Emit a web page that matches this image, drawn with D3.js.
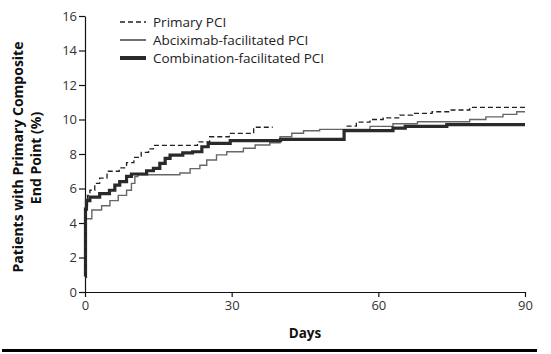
<!DOCTYPE html>
<html lang="en">
<head>
  <meta charset="UTF-8" />
  <title>Primary Composite End Point</title>
  <script src="https://cdn.jsdelivr.net/npm/d3@7"></script>
  <style>
    html, body { margin: 0; padding: 0; background: #fff; overflow: hidden; }
    svg { display: block; }
    text { font-family: "Open Sans", "Noto Sans", sans-serif; }
  </style>
</head>
<body>
  <script>
    // ----------------------------
    // Data (step points: [day, percent])
    // null marks the stretch where the dashed curve is not drawn in the original
    // ----------------------------
    const seriesNames = ["Primary PCI", "Abciximab-facilitated PCI", "Combination-facilitated PCI"];
    const yTicks = [0, 2, 4, 6, 8, 10, 12, 14, 16];
    const xTicks = [0, 30, 60, 90];

    const primaryPCI = [
      [0, 0.9], [0.1, 5.0], [0.5, 5.6], [1, 5.9], [2, 6.3], [3, 6.6], [4.5, 7.0],
      [7, 7.2], [8.5, 7.5], [10, 7.8], [11.5, 8.1], [13, 8.3], [14, 8.5], [23, 8.7],
      [25.5, 9.0], [29.5, 9.2], [34.5, 9.55], [38.4, 9.55], [38.5, null],
      [53.5, 9.62], [55.5, 9.85], [58.3, 10.0],
      [61, 10.1], [64.4, 10.25], [67, 10.35], [71, 10.45], [74.7, 10.55], [78.7, 10.7],
      [90, 10.7]
    ];
    const abciximabPCI = [
      [0, 0.9], [0.1, 4.25], [1.4, 4.75], [3.4, 5.0], [5.1, 5.3], [6.8, 5.6], [8.5, 5.9],
      [9.5, 6.3], [10.2, 6.7], [10.8, 6.8], [19.4, 6.9], [21.5, 7.15], [23.5, 7.35],
      [24.9, 7.65], [26.9, 7.95], [29, 8.13], [32.4, 8.33], [34.8, 8.52], [37.8, 8.65],
      [39.9, 9.0], [42.3, 9.2], [44.7, 9.35], [48, 9.43], [58.3, 9.6], [63, 9.75], [68, 9.87],
      [78.7, 10.0], [82, 10.15], [85.5, 10.3], [88.3, 10.45], [90, 10.45]
    ];
    const combinationPCI = [
      [0, 0.9], [0.1, 4.8], [0.3, 5.3], [1, 5.5], [3, 5.7], [5, 5.9], [6.1, 6.2], [7.1, 6.4],
      [8.5, 6.7], [9.5, 6.84], [12.6, 7.03], [14, 7.17], [15.3, 7.46], [16.4, 7.75],
      [17.4, 7.94], [20, 8.07], [22, 8.13], [23.9, 8.42], [25.2, 8.62], [29.7, 8.77],
      [40, 8.85], [53, 9.35], [63, 9.5], [65.5, 9.6], [74, 9.7], [90, 9.7]
    ];

    // ----------------------------
    // Layout
    // ----------------------------
    const width = 551, height = 354;
    const margin = { left: 85, right: 26, top: 16, bottom: 62 };

    const svg = d3.select("body").append("svg")
      .attr("width", width)
      .attr("height", height);

    const x = d3.scaleLinear().domain([0, 90]).range([margin.left, width - margin.right]);
    const y = d3.scaleLinear().domain([0, 16]).range([height - margin.bottom, margin.top]);

    // ----------------------------
    // Axes
    // ----------------------------
    const xAxis = svg.append("g")
      .attr("transform", `translate(0,${y(0)})`)
      .call(d3.axisBottom(x).tickValues(xTicks).tickSize(5).tickPadding(4).tickSizeOuter(0));
    const yAxis = svg.append("g")
      .attr("transform", `translate(${x(0)},0)`)
      .call(d3.axisLeft(y).tickValues(yTicks).tickSize(6).tickPadding(2).tickSizeOuter(0));

    [xAxis, yAxis].forEach(g => {
      g.select(".domain").attr("stroke", "#111").attr("stroke-width", 1.2);
      g.selectAll(".tick line").attr("stroke", "#111").attr("stroke-width", 1.2);
      g.selectAll(".tick text")
        .attr("fill", "#333")
        .style("font-size", "13px");
    });

    // ----------------------------
    // Curves
    // ----------------------------
    const line = d3.line()
      .defined(d => d[1] != null)
      .x(d => x(d[0]))
      .y(d => y(d[1]))
      .curve(d3.curveStepAfter);

    svg.append("path")
      .datum(abciximabPCI)
      .attr("fill", "none")
      .attr("stroke", "#666")
      .attr("stroke-width", 1.4)
      .attr("d", line);

    svg.append("path")
      .datum(combinationPCI)
      .attr("fill", "none")
      .attr("stroke", "#2a2a2a")
      .attr("stroke-width", 3.2)
      .attr("d", line);

    svg.append("path")
      .datum(primaryPCI)
      .attr("fill", "none")
      .attr("stroke", "#222")
      .attr("stroke-width", 1.3)
      .attr("stroke-dasharray", "5,3")
      .attr("d", line);

    // ----------------------------
    // Legend
    // ----------------------------
    const legendStyles = [
      { dash: "5,3", width: 1.3, color: "#222" },
      { dash: null, width: 1.3, color: "#222" },
      { dash: null, width: 4, color: "#2a2a2a" }
    ];
    const legend = svg.append("g");
    seriesNames.forEach((name, i) => {
      const ly = 22 + i * 18;
      legend.append("line")
        .attr("x1", 120).attr("x2", 146)
        .attr("y1", ly).attr("y2", ly)
        .attr("stroke", legendStyles[i].color)
        .attr("stroke-width", legendStyles[i].width)
        .attr("stroke-dasharray", legendStyles[i].dash);
      legend.append("text")
        .attr("x", 153)
        .attr("y", ly + 5)
        .attr("fill", "#222")
        .style("font-size", "13.5px")
        .text(name);
    });

    // ----------------------------
    // Axis titles
    // ----------------------------
    const yTitle = svg.append("text")
      .attr("transform", `translate(23,155) rotate(-90)`)
      .attr("text-anchor", "middle")
      .attr("fill", "#111")
      .style("font-size", "14px")
      .style("font-weight", "bold");
    yTitle.append("tspan").attr("x", -2).attr("dy", 0).text("Patients with Primary Composite");
    yTitle.append("tspan").attr("x", -3).attr("dy", 18).text("End Point (%)");

    svg.append("text")
      .attr("x", (x(0) + x(90)) / 2)
      .attr("y", 338)
      .attr("text-anchor", "middle")
      .attr("fill", "#111")
      .style("font-size", "13.5px")
      .style("font-weight", "bold")
      .text("Days");

    // bottom rule
    svg.append("line")
      .attr("x1", 2).attr("x2", 537)
      .attr("y1", 350.5).attr("y2", 350.5)
      .attr("stroke", "#000")
      .attr("stroke-width", 3);
  </script>
</body>
</html>
